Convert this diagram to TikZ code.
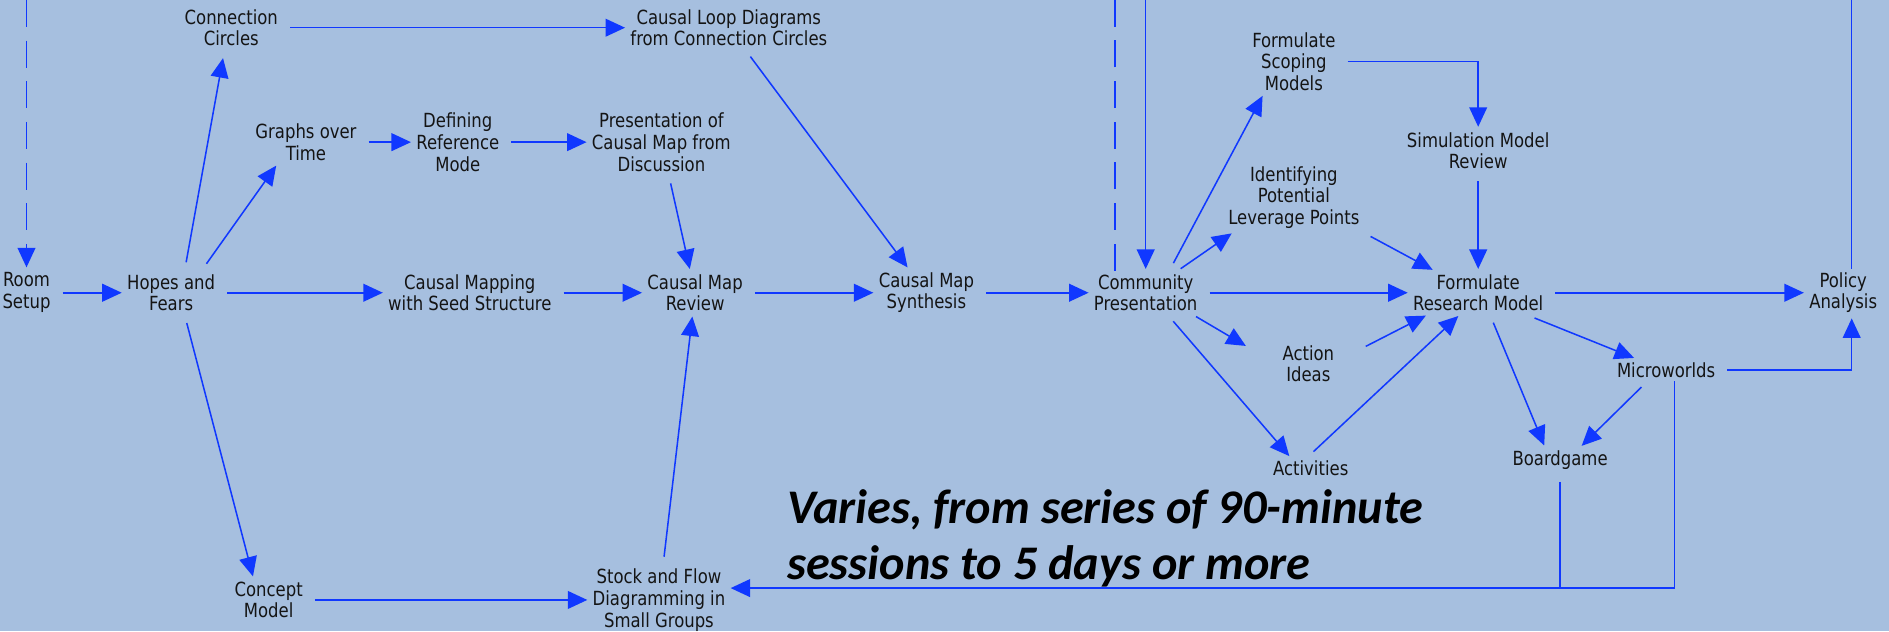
\documentclass[tikz,border=0pt]{standalone}
\usepackage{fontspec}
\newfontfamily\lblfont[FakeStretch=0.94]{DejaVu Sans Condensed}
\newfontfamily\notefont{Carlito}
\usetikzlibrary{arrows.meta}
\definecolor{bgblue}{RGB}{166,191,223}
\definecolor{linkblue}{RGB}{16,56,255}
\definecolor{inkgray}{RGB}{20,20,20}

\begin{document}
\begin{tikzpicture}[x=0.025cm, y=-0.025cm,
    box/.style={align=center, inner sep=2pt, text=inkgray, font=\lblfont\fontsize{11.5}{12.8}\selectfont},
    wire/.style={color=linkblue, line width=0.9pt},
    flow/.style={wire, -{Triangle[length=11.5pt,width=10.5pt]}, shorten <=5pt, shorten >=1pt},
    gap/.style={dash pattern=on 16pt off 8pt}]
    \useasboundingbox (0,0) rectangle (1568,524);
    \fill[bgblue] (0,0) rectangle (1568,524);
    \coordinate (top) at (0,0);

    \node[box] (room) at (22,243) {Room\\Setup};
    \node[box] (hopes) at (142,243) {Hopes and\\Fears};
    \node[box] (circles) at (192,23) {Connection\\Circles};
    \node[box] (graphs) at (254,118) {Graphs over\\Time};
    \node[box] (refmode) at (380,118) {Defining\\Reference\\Mode};
    \node[box] (present) at (549,118) {Presentation of\\Causal Map from\\Discussion};
    \node[box] (loops) at (605,23) {Causal Loop Diagrams\\from Connection Circles};
    \node[box] (seed) at (390,243) {Causal Mapping\\with Seed Structure};
    \node[box] (review) at (577,243) {Causal Map\\Review};
    \node[box] (synth) at (769,243) {Causal Map\\Synthesis};
    \node[box] (concept) at (223,498) {Concept\\Model};
    \node[box] (stock) at (547,498) {Stock and Flow\\Diagramming in\\Small Groups};
    \node[box] (community) at (951,243) {Community\\Presentation};
    \node[box] (scoping) at (1074,51) {Formulate\\Scoping\\Models};
    \node[box] (leverage) at (1074,164) {Identifying\\Potential\\Leverage Points};
    \node[box] (simreview) at (1227,125) {Simulation Model\\Review};
    \node[box] (research) at (1227,243) {Formulate\\Research Model};
    \node[box] (actions) at (1086,302) {Action\\Ideas};
    \node[box] (activities) at (1088,389) {Activities};
    \node[box] (micro) at (1383,307) {Microworlds};
    \node[box] (board) at (1295,382) {Boardgame};
    \node[box] (policy) at (1530,243) {Policy\\Analysis};
    \node[anchor=west, align=left, inner sep=0pt, text=black,
        font=\notefont\bfseries\itshape\fontsize{28.5}{32.7}\selectfont]
        (note) at (653,447) {Varies, from series of 90-minute\\sessions to 5 days or more};

    \draw[flow] (room) -- (hopes);
    \draw[flow] (hopes) -- (seed);
    \draw[flow] (seed) -- (review);
    \draw[flow] (review) -- (synth);
    \draw[flow] (synth) -- (community);
    \draw[flow] (community) -- (research);
    \draw[flow] (research) -- (policy);
    \draw[flow, shorten >=5pt] ([xshift=8pt]hopes.north) -- ([xshift=-4pt]circles.south);
    \draw[flow] ([xshift=18pt]hopes.north) -- ([xshift=-17pt]graphs.south);
    \draw[flow] (graphs) -- (refmode);
    \draw[flow] (refmode) -- (present);
    \draw[flow] (circles) -- (loops);
    \draw[flow] (loops) -- (synth);
    \draw[flow] (present) -- (review);
    \draw[flow] (stock) -- (review);
    \draw[flow] ([xshift=8pt]hopes.south) -- ([xshift=-9pt]concept.north);
    \draw[flow] (concept) -- (stock);
    \draw[flow] ([xshift=14pt]community.north) -- ([xshift=-18pt]scoping.south);
    \draw[flow, shorten <=2pt] ([xshift=19pt]community.north) -- ([xshift=5pt]leverage.south west);
    \draw[flow] (leverage.south east) -- ([xshift=-26pt]research.north);
    \draw[flow] (scoping.east) -| (simreview.north);
    \draw[flow] (simreview) -- (research);
    \draw[flow, shorten <=2pt] ([xshift=28pt]community.south) -- ([xshift=-36pt,yshift=-3pt]actions.north);
    \draw[flow] ([xshift=12pt,yshift=8pt]actions.east) -- ([xshift=-30pt]research.south);
    \draw[flow] ([xshift=13pt]community.south) -- ([xshift=-12pt]activities.north);
    \draw[flow] ([xshift=-2pt]activities.north) -- ([xshift=-11pt]research.south);
    \draw[flow] ([xshift=7pt]research.south) -- ([xshift=-9pt]board.north);
    \draw[flow] ([xshift=-12pt]research.south east) -- ([xshift=-18pt]micro.north);
    \draw[flow] ([xshift=-11pt]micro.south) -- ([xshift=12pt]board.north);
    \draw[flow] (micro.east) -| ([xshift=5pt]policy.south);
    \coordinate (join) at ([yshift=7pt]stock.east -| board.south);
    \draw[flow] (board.south) -- (join) -- ([yshift=7pt]stock.east);
    \draw[wire] ([xshift=5pt]micro.south) |- (join);

    \draw[flow, gap, shorten <=0pt] (room |- top) -- (room);
    \draw[wire, gap] ([xshift=-18pt]community.north) -- ([xshift=-18pt]community.north |- top);
    \draw[flow, shorten <=0pt] (community.north |- top) -- (community);
    \draw[wire] ([xshift=5pt]policy.north) -- ([xshift=5pt]policy.north |- top);
\end{tikzpicture}
\end{document}
